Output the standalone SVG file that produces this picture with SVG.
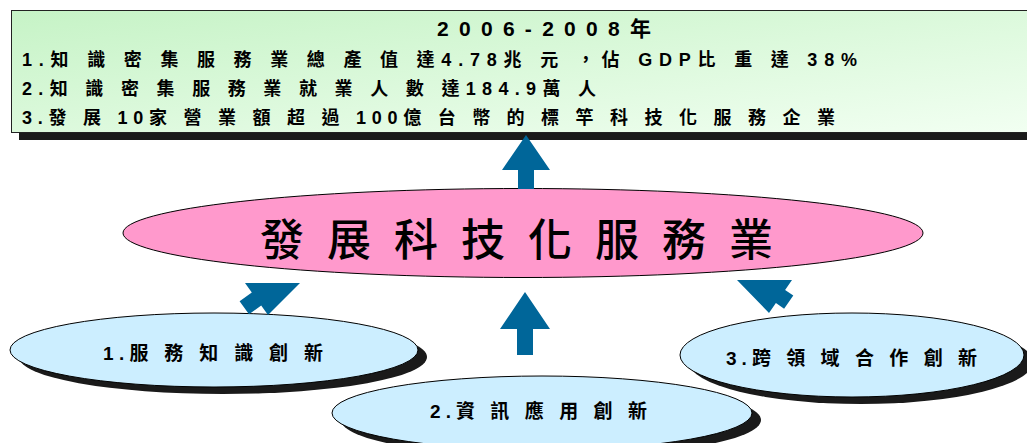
<svg xmlns="http://www.w3.org/2000/svg" width="1027" height="443" viewBox="0 0 1027 443">
<style>
.t{font-family:"Liberation Sans","Noto Sans CJK TC",sans-serif;font-weight:bold;fill:#000;white-space:pre}
.shadow{fill:#1a1a1a}
.oval{fill:#cceeff;stroke:#000;stroke-width:1}
.arrow{fill:#006699}
</style>
<defs>
<linearGradient id="gbox" x1="0" y1="0" x2="1" y2="1">
<stop offset="0" stop-color="#c6f3c6"/>
<stop offset="1" stop-color="#f2fff2"/>
</linearGradient>
</defs>
<rect width="1027" height="443" fill="#fff"/>
<g id="goal">
<rect class="shadow" x="19" y="18" width="1030" height="122"/>
<rect x="11.5" y="10.5" width="1030" height="122" fill="url(#gbox)" stroke="#222" stroke-width="1"/>
<text class="t" x="437" y="36" font-size="21" textLength="214" lengthAdjust="spacing">2006-2008年</text>
<text class="t" x="22" y="66" font-size="18" textLength="835" lengthAdjust="spacing">1.知 識 密 集 服 務 業 總 產 值 達4.78兆 元 ，佔 GDP比 重 達 38%</text>
<text class="t" x="22" y="95" font-size="18" textLength="574" lengthAdjust="spacing">2.知 識 密 集 服 務 業 就 業 人 數 達184.9萬 人</text>
<text class="t" x="22" y="124" font-size="18" textLength="813" lengthAdjust="spacing">3.發 展 10家 營 業 額 超 過 100億 台 幣 的 標 竿 科 技 化 服 務 企 業</text>
</g>
<g id="core">
<ellipse cx="523" cy="233" rx="400" ry="44.5" fill="#ff99cc" stroke="#000" stroke-width="1"/>
<text x="260" y="256" font-size="44" font-family="'Noto Sans CJK TC',sans-serif" font-weight="500" textLength="513" lengthAdjust="spacing">發展科技化服務業</text>
</g>
<g id="node1">
<ellipse class="shadow" cx="223" cy="357" rx="204" ry="37"/>
<ellipse class="oval" cx="214" cy="350" rx="204" ry="37"/>
<text class="t" x="103" y="360" font-size="19" textLength="220" lengthAdjust="spacing">1.服 務 知 識 創 新</text>
</g>
<g id="node2">
<ellipse class="shadow" cx="551" cy="420" rx="210" ry="37"/>
<ellipse class="oval" cx="542" cy="413" rx="210" ry="37"/>
<text class="t" x="430" y="418" font-size="19" textLength="217" lengthAdjust="spacing">2.資 訊 應 用 創 新</text>
</g>
<g id="node3">
<ellipse class="shadow" cx="861" cy="362" rx="172" ry="42"/>
<ellipse class="oval" cx="852" cy="355" rx="172" ry="42"/>
<text class="t" x="726" y="365" font-size="19" textLength="251" lengthAdjust="spacing">3.跨 領 域 合 作 創 新</text>
</g>
<g id="connectors">
<polygon class="arrow" points="526,135 550,170 534,170 534,189 518,189 518,170 502,170"/>
<polygon class="arrow" points="525,292 550,329 533,329 533,355 517,355 517,329 500,329"/>
<polygon class="arrow" points="300,283 245,283 251.8,292.5 239.6,301.3 249,314.3 261.2,305.5 268,315"/>
<polygon class="arrow" points="737,280 792,280 785.1,289.9 793.3,295.6 784.1,308.8 775.9,303.1 769,313"/>
</g>
</svg>
